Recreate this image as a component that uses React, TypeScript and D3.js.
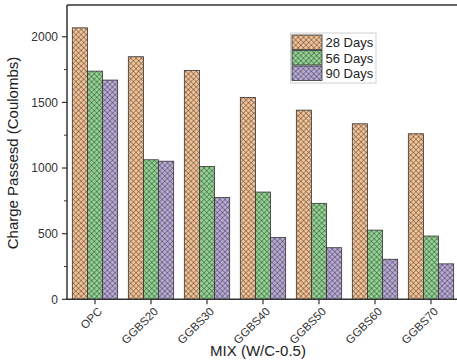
import React from "react";
import * as d3 from "d3";

const categories = ["OPC", "GGBS20", "GGBS30", "GGBS40", "GGBS50", "GGBS60", "GGBS70"];
const seriesNames = ["28 Days", "56 Days", "90 Days"];
const days28 = [2068, 1848, 1744, 1538, 1441, 1337, 1261];
const days56 = [1738, 1063, 1012, 817, 731, 527, 482];
const days90 = [1670, 1052, 775, 470, 393, 305, 270];
const majorTicks = [0, 500, 1000, 1500, 2000];
const minorTicks = [250, 750, 1250, 1750];
const colors = ["#f6c294", "#92d492", "#b9aad8"];

const W = 457, H = 360;
const left = 67, top = 5, bottom = 299.3, right = 459;

export default function App() {
  const series = [days28, days56, days90];
  const x = d3.scaleBand<string>().domain(categories).range([left, right]).paddingInner(0.19).paddingOuter(0.095);
  const xs = d3.scaleBand<number>().domain([0, 1, 2]).range([0, x.bandwidth()]);
  const y = d3.scaleLinear().domain([0, 2242]).range([bottom, top]);
  const font = "Arial, 'Liberation Sans', sans-serif";
  const s = 3.7;
  return (
    <svg width={W} height={H} style={{ position: "absolute", left: 0, top: 0 }} fontFamily={font}>
      <defs>
        {colors.map((c, i) => (
          <pattern key={i} id={`hatch${i}`} patternUnits="userSpaceOnUse" width={s} height={s} patternTransform="rotate(45)">
            <rect width={s} height={s} fill={c} />
            <path d={`M0,0H${s}M0,0V${s}`} stroke="#2a2a2a" strokeWidth={0.8} fill="none" />
          </pattern>
        ))}
      </defs>
      <rect width={W} height={H} fill="#fff" />
      {categories.map((c, ci) =>
        series.map((vals, si) => (
          <rect
            key={`${c}-${si}`}
            x={(x(c) as number) + (xs(si) as number)}
            y={y(vals[ci])}
            width={xs.bandwidth()}
            height={bottom - y(vals[ci])}
            fill={`url(#hatch${si})`}
            stroke="#333"
            strokeWidth={0.8}
          />
        ))
      )}
      {/* frame */}
      <line x1={left} x2={W} y1={top} y2={top} stroke="#333" strokeWidth={1.5} />
      <line x1={left} x2={left} y1={top} y2={bottom} stroke="#333" strokeWidth={1.5} />
      <line x1={left - 0.75} x2={W} y1={bottom} y2={bottom} stroke="#333" strokeWidth={1.5} />
      {majorTicks.map((t) => (
        <g key={t}>
          <line x1={left - 5} x2={left} y1={y(t)} y2={y(t)} stroke="#333" strokeWidth={1.2} />
          <text x={left - 9} y={y(t)} dy="0.35em" textAnchor="end" fontSize={12} fill="#333">{t}</text>
        </g>
      ))}
      {minorTicks.map((t) => (
        <line key={t} x1={left - 3} x2={left} y1={y(t)} y2={y(t)} stroke="#333" strokeWidth={1} />
      ))}
      {categories.map((c) => {
        const cx = (x(c) as number) + x.bandwidth() / 2;
        return (
          <g key={c}>
            <line x1={cx} x2={cx} y1={bottom} y2={bottom + 5} stroke="#333" strokeWidth={1.2} />
            <text transform={`translate(${cx + 5},${bottom + 10}) rotate(-45)`} textAnchor="end" dy="0.35em" fontSize={11.5} fill="#333">{c}</text>
          </g>
        );
      })}
      <text x={258} y={356} textAnchor="middle" fontSize={15} fill="#222">MIX (W/C-0.5)</text>
      <text transform={`translate(18,153) rotate(-90)`} textAnchor="middle" fontSize={15} fill="#222">Charge Passesd (Coulombs)</text>
      {/* legend */}
      <rect x={290.5} y={33} width={85.5} height={50} fill="#fff" stroke="#d0d0d0" strokeWidth={1} />
      {seriesNames.map((n, i) => (
        <g key={n}>
          <rect x={292} y={35 + i * 15.5} width={30} height={14.5} fill={`url(#hatch${i})`} stroke="#333" strokeWidth={0.8} />
          <text x={325.5} y={42.5 + i * 15.5} dy="0.35em" fontSize={13} fill="#222">{n}</text>
        </g>
      ))}
    </svg>
  );
}
